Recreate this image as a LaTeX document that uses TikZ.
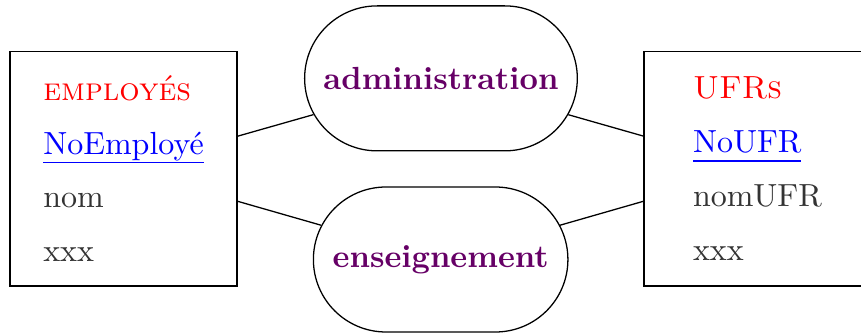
\documentclass[tikz,border=0pt]{standalone}
\usepackage{amssymb, amsmath}
\usepackage{tikz}
\usetikzlibrary{shapes.misc}
% cle primaire soulignee en bleu
\newcommand{\cle}[1]{{\color{blue}\setbox0\hbox{#1}\rlap{\rule[-2.9pt]{\wd0}{0.55pt}}\box0}}

\begin{document}
\begin{tikzpicture}[x=1pt, y=1pt,
	  entite/.style={draw, minimum width=70.9pt, minimum height=73.4pt, inner sep=0pt, align=left, text=black!80},
	  relation/.style={draw, rounded rectangle, minimum height=45.3pt, inner xsep=5.6pt, font=\bfseries, text=violet!80!black}]
	  \useasboundingbox (0,0) rectangle (269.06,104.69);
	  \clip (0,0) rectangle (269.06,104.69);

	  \node [entite] (emp) at (38.6,52.0) {{\color{red}\textsc{employés}}\\[4.8pt]
	    \cle{NoEmployé}\\[4.8pt] nom\\[4.8pt] xxx};
	  \node [entite] (ufr) at (236.7,52.0) {{\color{red}\textsc{UFRs}}\\[4.8pt]
	    \cle{NoUFR}\\[4.8pt] nomUFR\\[4.8pt] xxx};

	  \node [relation] (admin) at (137.8,80.2) {administration};
	  \node [relation] (ens)   at (137.7,23.6) {enseignement};

	  \draw (emp) to (admin);
	  \draw (admin) to (ufr);
	  \draw (emp) to (ens);
	  \draw (ens) to (ufr);
	\end{tikzpicture}
\end{document}
